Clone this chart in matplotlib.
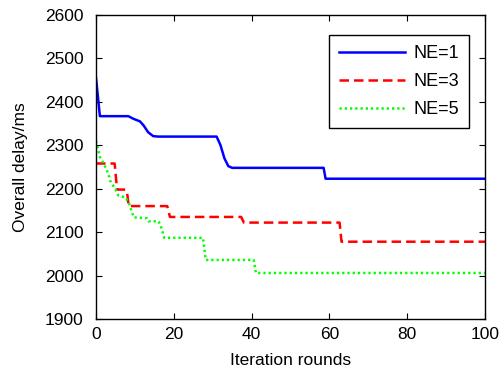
import matplotlib
matplotlib.use('Agg')
import matplotlib.pyplot as plt

plt.rcParams['font.family'] = ['Liberation Sans', 'DejaVu Sans']

# delay curves per number of edge nodes (vertices of each convergence curve)
ne1_x = [0, 1, 8.3, 9.6, 11.3, 12.2, 13.4, 14.7, 16, 31, 32, 33, 34, 35, 58.5, 59, 100]
ne1_y = [2455, 2367, 2367, 2361, 2355, 2346, 2330, 2321, 2320, 2320, 2300, 2270, 2252, 2248, 2248, 2223, 2223]

ne3_x = [0, 4.8, 5.4, 7.6, 8.0, 8.4, 18.3, 19, 37.3, 38, 62.6, 63.1, 100]
ne3_y = [2258, 2258, 2198, 2198, 2190, 2160, 2160, 2135, 2135, 2122, 2122, 2078, 2078]

ne5_x = [0, 1, 2, 3.2, 3.6, 4.9, 5.8, 7.5, 8.4, 8.8, 9.7, 13.1, 13.5, 16.1, 17, 17.5,
         27.5, 28.2, 40.5, 41.1, 100]
ne5_y = [2310, 2273, 2257, 2234, 2219, 2200, 2184, 2180, 2169, 2157, 2134, 2132, 2125, 2125, 2105, 2087,
         2087, 2036, 2036, 2006, 2006]

x_ticks = [0, 20, 40, 60, 80, 100]
y_ticks = [1900, 2000, 2100, 2200, 2300, 2400, 2500, 2600]

fig = plt.figure(figsize=(5.04, 3.74), dpi=100)
ax = fig.add_axes([0.1905, 0.147, 0.772, 0.813])

ax.plot(ne1_x, ne1_y, color=(0, 0, 1), lw=1.8, label='NE=1')
ax.plot(ne3_x, ne3_y, color=(1, 0, 0), lw=1.8, dashes=(3.8, 2.0), label='NE=3')
ax.plot(ne5_x, ne5_y, color=(0, 1, 0), lw=1.8, dashes=(0.9, 1.2), label='NE=5')

ax.set_xlim(0, 100)
ax.set_ylim(1900, 2600)
ax.set_xticks(x_ticks)
ax.set_yticks(y_ticks)
ax.tick_params(direction='in', top=True, right=True, length=4, width=0.8,
               labelsize=12.5)
ax.tick_params(axis='x', pad=6)
ax.tick_params(axis='y', pad=9)
for s in ax.spines.values():
    s.set_linewidth(1.0)

ax.set_xlabel('Iteration rounds', fontsize=12.5, labelpad=8)
ax.set_ylabel('Overall delay/ms', fontsize=12.5, labelpad=12)

leg = ax.legend(loc='upper right', bbox_to_anchor=(0.959, 0.934), fontsize=13,
                fancybox=False, framealpha=1, edgecolor='black',
                handlelength=3.7, handletextpad=0.45, labelspacing=0.62,
                borderpad=0.55, borderaxespad=0)
leg.get_frame().set_linewidth(1.0)

fig.savefig('out.png', dpi=100)
